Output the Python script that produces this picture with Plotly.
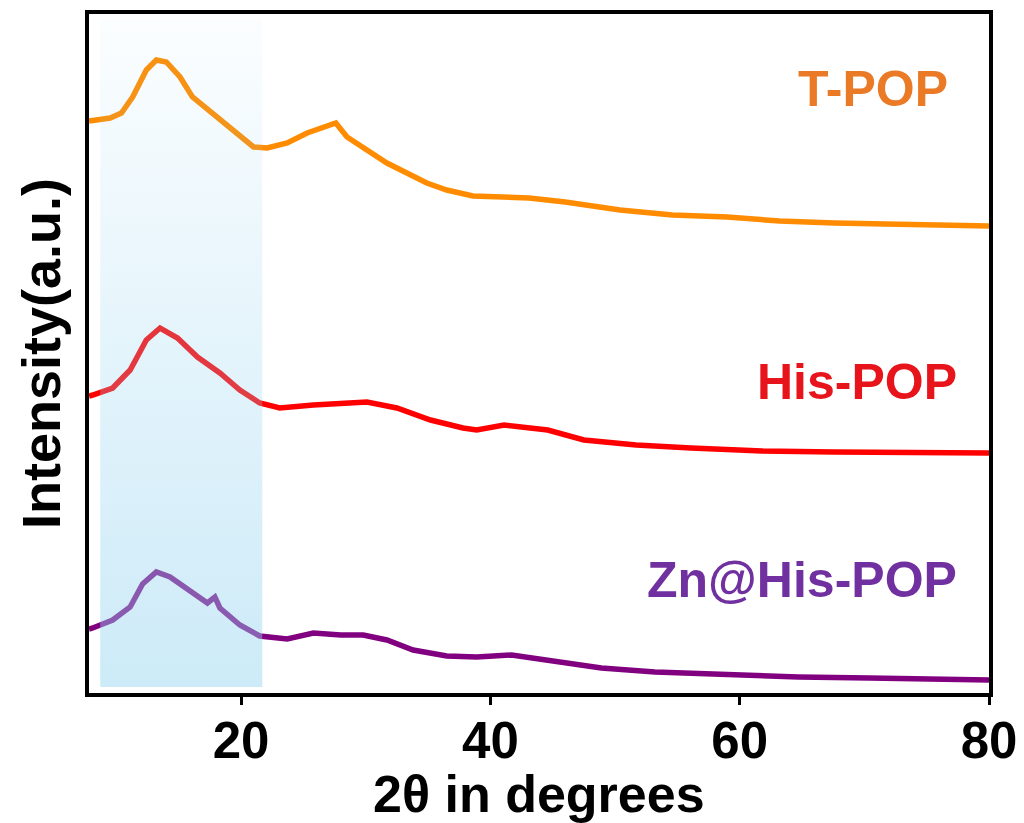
import plotly.graph_objects as go

# 2-theta positions and stacked intensities (a.u.)
t_pop_x = [7.8, 8.5, 9.5, 10.4, 11.3, 12.4, 13.2, 14.0, 15.1, 16.1, 17.7, 19.4, 21.0, 22.1,
           23.7, 25.3, 26.9, 27.6, 28.5, 30.1, 31.7, 33.3, 34.9, 36.5, 38.6, 43.1, 46.0,
           50.4, 54.6, 59.0, 63.2, 67.6, 73.3, 80.0]
t_pop_y = [572, 573, 575, 580, 596, 623, 633, 631, 616, 596, 580, 563, 546, 545,
           550, 560, 566, 570, 556, 543, 530, 520, 510, 503, 497, 495, 491,
           483, 478, 476, 472, 470, 468, 467]

his_pop_x = [7.8, 8.1, 9.7, 11.1, 12.4, 13.5, 14.9, 16.5, 18.3, 19.9, 21.5, 23.1, 25.8,
             28.5, 30.1, 32.5, 35.2, 37.8, 38.9, 41.1, 44.6, 47.5, 51.7, 56.1, 61.8,
             67.6, 73.3, 80.0]
his_pop_y = [297, 298, 305, 323, 353, 365, 355, 336, 320, 303, 290, 285, 288,
             290, 291, 285, 273, 265, 263, 268, 263, 253, 248, 245, 242,
             241, 240, 240]

zn_x = [7.8, 8.1, 9.7, 11.1, 12.1, 13.2, 14.3, 15.9, 17.3, 17.9, 18.3, 19.9, 21.5, 23.7,
        25.8, 28.0, 29.8, 31.7, 33.8, 36.5, 38.9, 41.7, 44.6, 48.9, 53.2, 59.0, 64.7,
        70.4, 80.0]
zn_y = [64, 65, 73, 86, 109, 121, 116, 103, 90, 96, 85, 68, 57, 54,
        60, 58, 58, 53, 43, 37, 36, 38, 33, 25, 21, 18, 16,
        15, 13]

labels = ["T-POP", "His-POP", "Zn@His-POP"]
label_x = [76.9, 77.6, 77.6]
label_y = [604, 311, 113]

shade_x = [8.7, 21.7]
shade_y = [6, 673]

x_ticks = [20, 40, 60, 80]
x_range = [7.8, 80]

line_colors = ["#FF8C00", "#FF0000", "#800080"]
label_colors = ["#EA7A26", "#E8141C", "#7030A0"]

FONT = "Liberation Sans, Arial, sans-serif"

fig = go.Figure()
for xs, ys, c, name in [(t_pop_x, t_pop_y, line_colors[0], labels[0]),
                        (his_pop_x, his_pop_y, line_colors[1], labels[1]),
                        (zn_x, zn_y, line_colors[2], labels[2])]:
    fig.add_trace(go.Scatter(x=xs, y=ys, mode="lines", name=name,
                             line=dict(color=c, width=5.5), showlegend=False))

# shaded highlight region (vertical gradient overlay)
fig.add_trace(go.Scatter(
    x=[shade_x[0], shade_x[1], shade_x[1], shade_x[0], shade_x[0]],
    y=[shade_y[0], shade_y[0], shade_y[1], shade_y[1], shade_y[0]],
    mode="none", fill="toself", showlegend=False, hoverinfo="skip",
    fillgradient=dict(type="vertical",
                      colorscale=[[0, "rgba(150,212,240,0.48)"],
                                  [1, "rgba(150,212,240,0.04)"]]),
))

for t, x, y, c in zip(labels, label_x, label_y, label_colors):
    fig.add_annotation(x=x, y=y, xref="x", yref="y", text=t, showarrow=False,
                       xanchor="right", yanchor="middle",
                       font=dict(family=FONT, size=50, color=c, weight="bold"))

# x-axis title
fig.add_annotation(x=0.5, y=-0.149, xref="paper", yref="paper", text="2θ in degrees",
                   showarrow=False, xanchor="center", yanchor="middle",
                   font=dict(family=FONT, size=52, color="black", weight="bold"))

# page body has an 8px margin, so the figure is sized/offset to compensate
fig.update_layout(
    width=1016, height=815,
    margin=dict(l=81, r=35, t=6, b=130),
    paper_bgcolor="white", plot_bgcolor="white",
    font=dict(family=FONT, color="black"),
    xaxis2=dict(overlaying="x", matches="x", side="bottom", anchor="y",
                range=x_range, tickvals=x_ticks, showticklabels=False,
                ticks="outside", ticklen=11, tickwidth=3, tickcolor="black",
                showline=False, showgrid=False, zeroline=False, automargin=False),
)
fig.add_trace(go.Scatter(x=[x_range[0]], y=[0], xaxis="x2", mode="markers",
                         marker=dict(opacity=0), showlegend=False, hoverinfo="skip"))

fig.update_layout(xaxis=dict(range=x_range, tickvals=x_ticks, ticks="",
                             showline=True, linewidth=3.5,
                             linecolor="black", mirror=True, showgrid=False, zeroline=False,
                             automargin=False,
                             tickfont=dict(family=FONT, size=51, color="black",
                                           weight="bold")))
fig.update_yaxes(range=[0, 679], showticklabels=False, ticks="", showline=True,
                 linewidth=3.5, linecolor="black", mirror=True, showgrid=False,
                 zeroline=False, automargin=False,
                 title=dict(text="Intensity(a.u.)", standoff=8,
                            font=dict(family=FONT, size=54, color="black", weight="bold")))

fig.write_html("out.html")
